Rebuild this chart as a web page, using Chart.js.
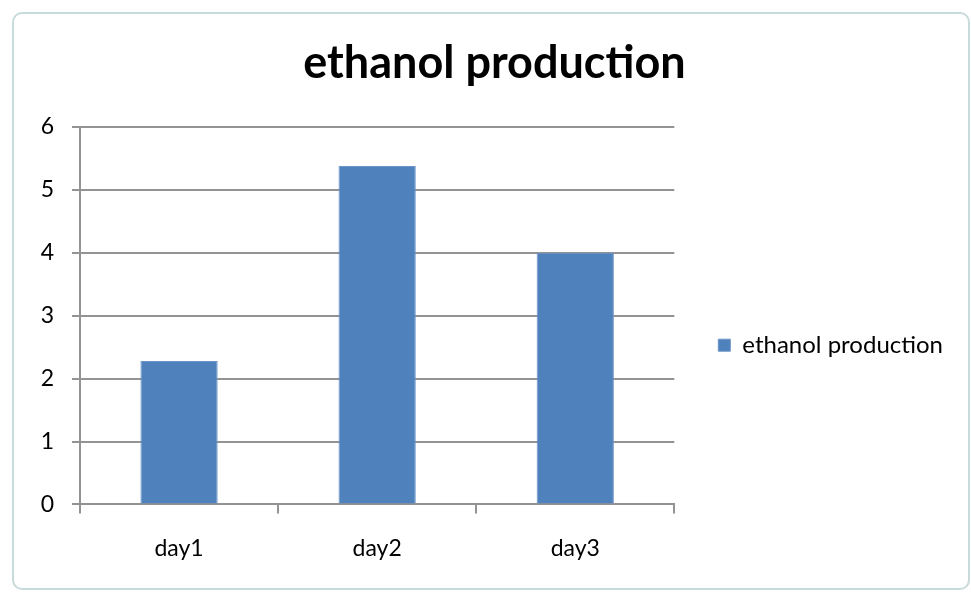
<!DOCTYPE html>
<html>
<head>
<meta charset="utf-8">
<title>ethanol production</title>
<script src="https://cdn.jsdelivr.net/npm/chart.js@4.4.0/dist/chart.umd.min.js"></script>
<style>
  html, body { margin: 0; padding: 0; background: #fff; }
  #wrap { position: relative; width: 971px; height: 593px; }
  #frame {
    position: absolute; left: 12px; top: 12px; width: 954px; height: 574px;
    border: 2px solid #c9dada; border-radius: 10px; pointer-events: none;
  }
  canvas { display: block; }
</style>
</head>
<body>
<div id="wrap">
  <canvas id="barChart" width="971" height="593"></canvas>
  <div id="frame"></div>
</div>
<script>
var categories = ['day1', 'day2', 'day3'];
var seriesName = 'ethanol production';
var ethanolValues = [2.28, 5.38, 4.0];
var yTicks = [0, 1, 2, 3, 4, 5, 6];

var axisGray = '#939393';
var fontFamily = "Lato, 'Liberation Sans', sans-serif";

initBarChart();

function initBarChart() {
  //-------------
  //- BAR CHART -
  //-------------
  var barData = {
    labels: categories,
    datasets: [
      {
        label: seriesName,
        backgroundColor: '#4f81bd',
        borderColor: '#6a95c8',
        borderWidth: 1,
        data: ethanolValues,
        barPercentage: 0.39,
        categoryPercentage: 1.0
      }
    ]
  };

  var barOptions = {
    responsive: false,
    animation: false,
    layout: {
      padding: { left: 36, right: 18, top: 10, bottom: 10 }
    },
    plugins: {
      title: {
        display: true,
        text: seriesName,
        color: '#000',
        font: { family: fontFamily, size: 45, weight: 'bold' },
        padding: { top: 26, bottom: 37 }
      },
      legend: {
        display: true,
        position: 'right',
        maxWidth: 320,
        // empty title only pushes the single entry down to where Excel put it
        title: {
          display: true,
          text: '',
          font: { size: 12 },
          padding: { top: 83, bottom: 0 }
        },
        labels: {
          boxWidth: 12,
          boxHeight: 12,
          padding: 44,
          color: '#000',
          font: { family: fontFamily, size: 24 }
        }
      },
      tooltip: { enabled: false }
    },
    scales: {
      x: {
        grid: {
          drawOnChartArea: false,
          drawTicks: true,
          tickLength: 9,
          color: axisGray,
          lineWidth: 2
        },
        border: { display: true, color: axisGray, width: 2 },
        ticks: {
          color: '#000',
          padding: 21,
          font: { family: fontFamily, size: 23 }
        }
      },
      y: {
        min: yTicks[0],
        max: yTicks[yTicks.length - 1],
        afterBuildTicks: function (axis) {
          axis.ticks = yTicks.map(function (v) { return { value: v }; });
        },
        afterFit: function (axis) {
          axis.width = 44;
        },
        grid: {
          tickLength: 8,
          color: axisGray,
          lineWidth: 2
        },
        border: { display: true, color: axisGray, width: 2 },
        ticks: {
          color: '#000',
          padding: 18,
          font: { family: fontFamily, size: 23 }
        }
      }
    }
  };

  var ctxBar = document.getElementById('barChart');
  new Chart(ctxBar, {
    type: 'bar',
    data: barData,
    options: barOptions
  });
}
</script>
</body>
</html>
